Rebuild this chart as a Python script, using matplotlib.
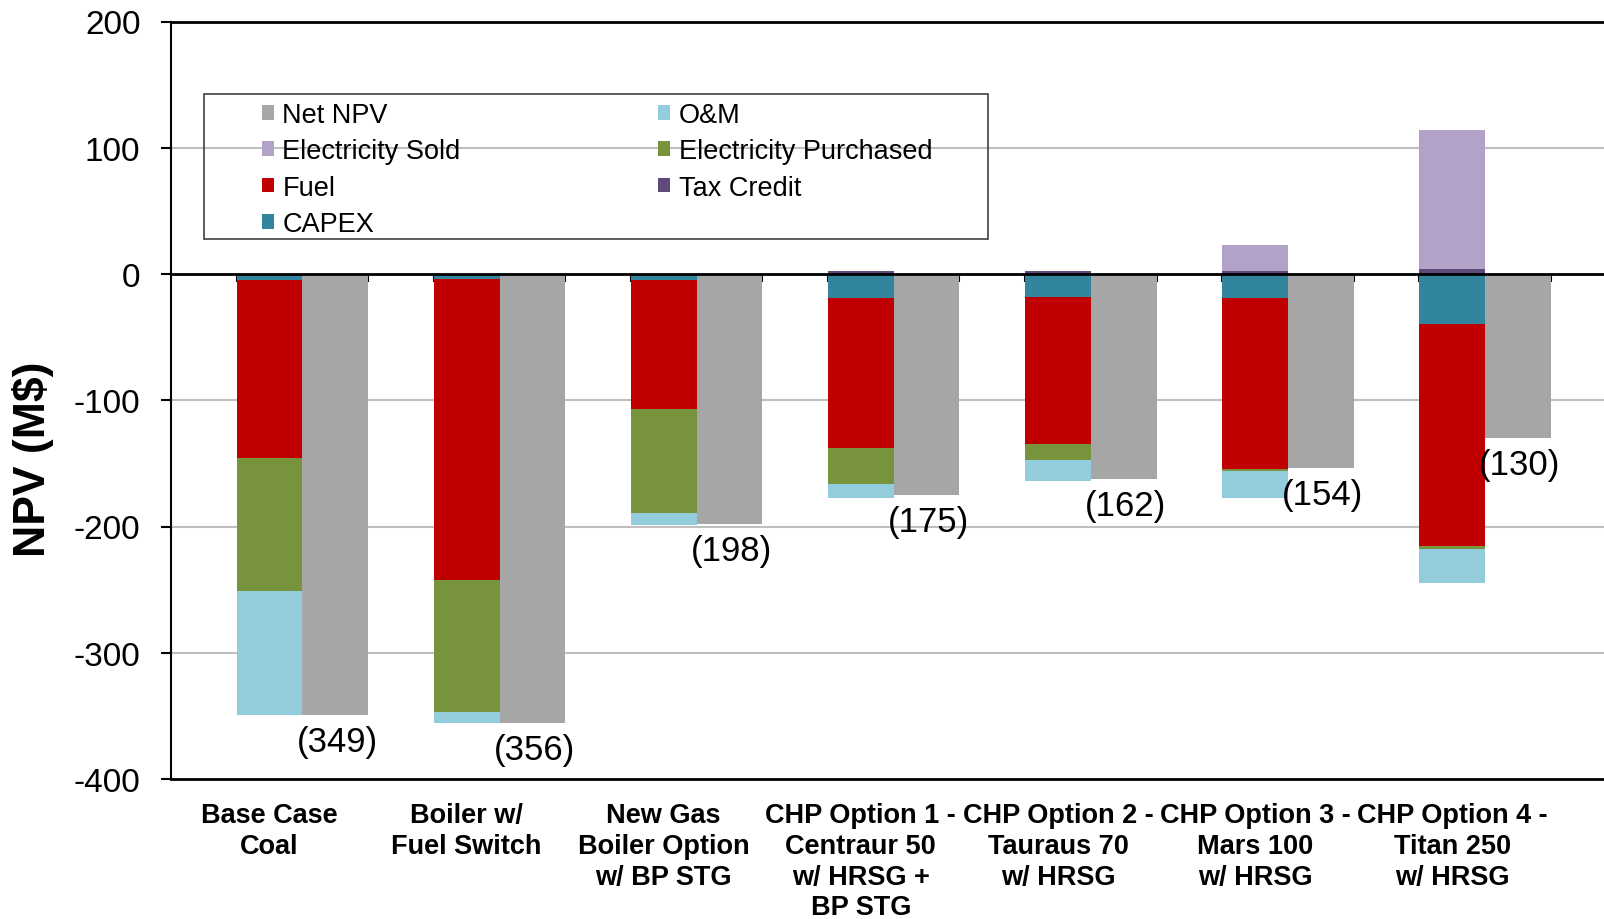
import matplotlib.pyplot as plt
import matplotlib.patches as mpatches
import numpy as np

plt.rcParams['font.family'] = ['Liberation Sans', 'DejaVu Sans']
plt.rcParams['axes.unicode_minus'] = False

# NPV components (M$)
categories = ['Base Case\nCoal', 'Boiler w/\nFuel Switch', 'New Gas\nBoiler Option\nw/ BP STG',
              'CHP Option 1 -\nCentraur 50\nw/ HRSG +\nBP STG', 'CHP Option 2 -\nTauraus 70\nw/ HRSG',
              'CHP Option 3 -\nMars 100\nw/ HRSG', 'CHP Option 4 -\nTitan 250\nw/ HRSG']
capex = [-5, -4, -5, -19, -18.5, -19.3, -39.5]
fuel = [-141, -238, -102, -118.5, -116.5, -135.5, -176]
elec_purchased = [-105, -105, -82.5, -29, -12.5, -1.6, -2]
om = [-98, -8.5, -9, -11, -16.5, -21, -27]
tax_credit = [0, 0, 0, 2, 2, 2.5, 4]
elec_sold = [0, 0, 0, 0, 0, 20.3, 110]
net_npv = [-349, -356, -198, -175, -162, -154, -130]

colors = {
    'Net NPV': '#A6A6A6', 'O&M': '#93CDDD', 'Electricity Sold': '#B3A2C7',
    'Electricity Purchased': '#77933C', 'Fuel': '#C00000', 'Tax Credit': '#604A7B',
    'CAPEX': '#31859C',
}

fig = plt.figure(figsize=(16.04, 9.2), dpi=100)
ax = fig.add_axes([171 / 1604, 1 - 780 / 920, 1 - 171 / 1604, (780 - 22.5) / 920])

n = len(categories)
x_stack = np.arange(n) * 3 + 1.5   # component bar centres
x_net = x_stack + 1                # net bar centres
w = 1.0

# grid
for yv in [100, -100, -200, -300]:
    ax.axhline(yv, color='#BFBFBF', lw=1.5, zorder=0)

handles = {}
# negative stack
bottom = np.zeros(n)
for name, vals in [('CAPEX', capex), ('Fuel', fuel),
                   ('Electricity Purchased', elec_purchased), ('O&M', om)]:
    vals = np.array(vals, dtype=float)
    handles[name] = ax.bar(x_stack, vals, w, bottom=bottom, color=colors[name], zorder=2)
    bottom = bottom + vals
# positive stack
bottom = np.zeros(n)
for name, vals in [('Tax Credit', tax_credit), ('Electricity Sold', elec_sold)]:
    vals = np.array(vals, dtype=float)
    handles[name] = ax.bar(x_stack, vals, w, bottom=bottom, color=colors[name], zorder=2)
    bottom = bottom + vals

handles['Net NPV'] = ax.bar(x_net, net_npv, w, color=colors['Net NPV'], zorder=2)

# net labels
for xi, v in zip(x_net, net_npv):
    ax.annotate(f'({abs(v):.0f})', (xi, v), xytext=(2, -10), textcoords='offset pixels',
                ha='center', va='top', fontsize=25)

ax.set_xlim(0, 1433 / 65.7)
ax.set_ylim(-400, 200)
ax.set_yticks(range(-400, 201, 100))
ax.tick_params(axis='y', labelsize=24, direction='out', length=7, width=1.5, pad=15)

# x axis sits on the zero line
ax.spines['bottom'].set_position(('data', 0))
ax.spines['bottom'].set_linewidth(2)
ax.spines['bottom'].set_zorder(3)
ax.set_xticks(np.arange(1, 22))
ax.set_xticklabels([])
ax.tick_params(axis='x', direction='out', length=6, width=1.5)
ax.spines['right'].set_visible(False)
ax.spines['left'].set_linewidth(1.5)
ax.spines['top'].set_linewidth(2)
ax.axhline(-400, color='black', lw=2, clip_on=False, zorder=3)

# category labels below the plot
for xi, lab in zip(x_stack, categories):
    ax.text(xi, -0.031, lab, transform=ax.get_xaxis_transform(), ha='center', va='top',
            fontsize=19.5, fontweight='bold', linespacing=1.23)

fig.text(33 / 1604, 1 - 459 / 920, 'NPV (M$)', rotation=90, ha='center', va='center',
         fontsize=32, fontweight='bold')

# legend (Excel order, row-wise)
order = ['Net NPV', 'Electricity Sold', 'Fuel', 'CAPEX', 'O&M', 'Electricity Purchased', 'Tax Credit']
leg = fig.legend([handles[k] for k in order], order, ncol=2, frameon=False,
                 loc='upper left', bbox_to_anchor=(262 / 1604, 1 - 103 / 920),
                 fontsize=19.5, handlelength=0.45, handleheight=0.45, handletextpad=0.3,
                 labelspacing=0.38, columnspacing=7.3, borderpad=0, borderaxespad=0)
fig.add_artist(mpatches.Rectangle((204 / 1604, 1 - 240 / 920), 784 / 1604, 145 / 920,
                                  transform=fig.transFigure, fill=False,
                                  edgecolor='#404040', lw=1.2))

fig.savefig('out.png', dpi=100)
